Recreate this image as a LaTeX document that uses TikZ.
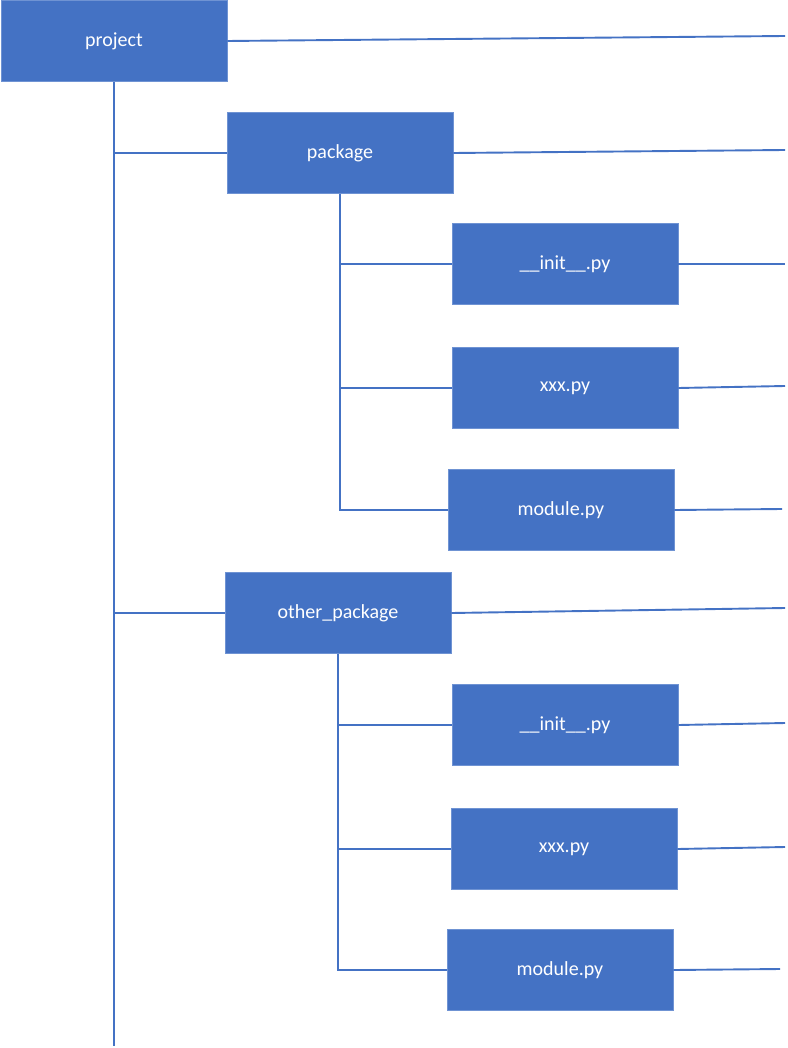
\documentclass[tikz,border=0pt]{standalone}
\usepackage{fontspec}
\setmainfont{Carlito}
\usetikzlibrary{positioning}
\definecolor{boxblue}{HTML}{4472C4}
\definecolor{boxedge}{HTML}{6F93D3}

\begin{document}
\begin{tikzpicture}[
        x=1pt, y=-1pt,
        item/.style={rectangle, draw=boxedge, line width=0.8pt, fill=boxblue, text=white,
            minimum width=226pt, minimum height=81pt, inner sep=0pt,
            font=\fontsize{20}{24}\selectfont},
        link/.style={draw=boxblue, line width=1.9pt},
    ]
        \useasboundingbox (0,0) rectangle (787,1048);

        % Tree nodes
        \node[item] (project) at (114,41) {project};
        \node[item] (package) at (340,153) {package};
        \node[item] (init1) at (565,264) {\_\_init\_\_.py};
        \node[item] (xxx1) at (565,388) {xxx.py};
        \node[item] (mod1) at (561,510) {module.py};
        \node[item] (other) at (338,613) {other\_package};
        \node[item] (init2) at (565,725) {\_\_init\_\_.py};
        \node[item] (xxx2) at (564,849) {xxx.py};
        \node[item] (mod2) at (560,970) {module.py};

        % Free ends on the right
        \foreach \n/\xx/\yy in {project/785/36, package/785/150, init1/785/264,
                xxx1/785/386, mod1/782/509, other/785/608, init2/785/723,
                xxx2/785/847, mod2/780/969} {
            \coordinate (\n-end) at (\xx,\yy);
            \draw[link] (\n.east) -- (\n-end);
        }

        % Main trunk
        \coordinate (trunk-end) at (114,1046);
        \draw[link] (project.south) -- (trunk-end);
        \draw[link] (project.south |- package.west) -- (package.west);
        \draw[link] (project.south |- other.west) -- (other.west);

        % package branch
        \draw[link] (package.south) |- (mod1.west);
        \draw[link] (package.south |- init1.west) -- (init1.west);
        \draw[link] (package.south |- xxx1.west) -- (xxx1.west);

        % other_package branch
        \draw[link] (other.south) |- (mod2.west);
        \draw[link] (other.south |- init2.west) -- (init2.west);
        \draw[link] (other.south |- xxx2.west) -- (xxx2.west);
    \end{tikzpicture}
\end{document}
